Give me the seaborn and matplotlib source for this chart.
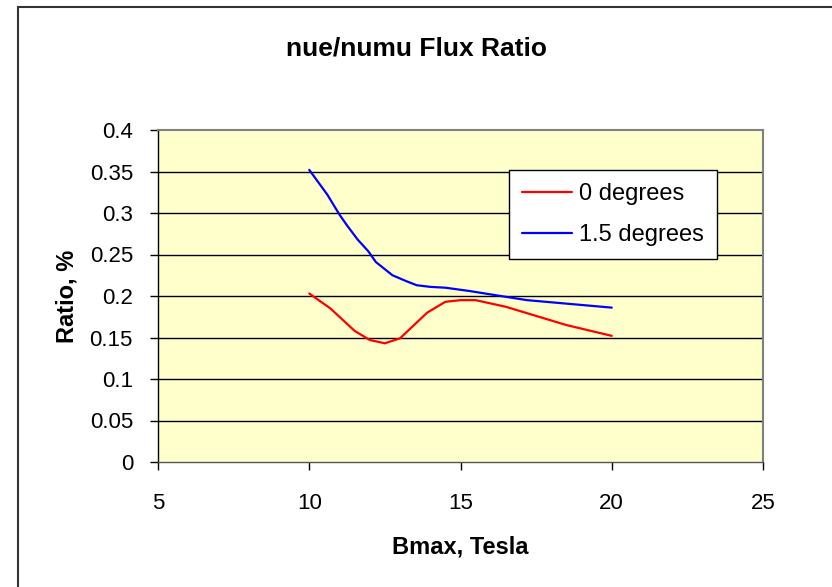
import matplotlib
matplotlib.use("Agg")
import matplotlib.pyplot as plt
from matplotlib.patches import Rectangle
import pandas as pd
import seaborn as sns

# Field strength (Tesla) and flux ratio for each beam angle
bmax_0deg = [10.0, 10.7, 11.5, 12.0, 12.5, 13.0, 13.9, 14.5, 15.0, 15.5, 16.5, 18.5, 20.0]
ratio_0deg = [0.203, 0.185, 0.158, 0.147, 0.143, 0.149, 0.180, 0.193, 0.195, 0.195, 0.187, 0.165, 0.152]

bmax_15deg = [10.0, 10.6, 11.0, 11.25, 11.6, 11.95, 12.2, 12.75, 13.2, 13.55, 14.0, 14.5, 15.3, 16.5, 17.2, 20.0]
ratio_15deg = [0.352, 0.322, 0.298, 0.285, 0.268, 0.254, 0.241, 0.225, 0.218, 0.213, 0.211, 0.210, 0.206, 0.199, 0.195, 0.186]

series_names = ["0 degrees", "1.5 degrees"]
x_ticks = [5, 10, 15, 20, 25]
y_ticks = [0, 0.05, 0.1, 0.15, 0.2, 0.25, 0.3, 0.35, 0.4]
y_tick_labels = ["0", "0.05", "0.1", "0.15", "0.2", "0.25", "0.3", "0.35", "0.4"]

df = pd.concat([
    pd.DataFrame({"Bmax": bmax_0deg, "Ratio": ratio_0deg, "Angle": series_names[0]}),
    pd.DataFrame({"Bmax": bmax_15deg, "Ratio": ratio_15deg, "Angle": series_names[1]}),
], ignore_index=True)

sns.set_style("white")
plt.rcParams["font.family"] = ["Liberation Sans", "DejaVu Sans"]
plt.rcParams["text.color"] = "black"
plt.rcParams["axes.labelcolor"] = "black"
plt.rcParams["xtick.color"] = "black"
plt.rcParams["ytick.color"] = "black"

W, H = 832, 587
fig = plt.figure(figsize=(W / 100, H / 100), dpi=100)
ax = fig.add_axes([158 / W, 1 - 462 / H, 605 / W, 332 / H])

# outer chart frame (runs off the right and bottom edges)
fig.patches.append(Rectangle((18 / W, -0.1), 1.2, 1.1 - 7 / H,
                             transform=fig.transFigure, fill=False,
                             edgecolor="#333333", linewidth=1.5, zorder=0))

ax.set_facecolor("#FFFFCC")
for y in y_ticks[1:-1]:
    ax.axhline(y, color="black", linewidth=1.0, zorder=1)

sns.lineplot(data=df, x="Bmax", y="Ratio", hue="Angle", sort=False,
             palette={series_names[0]: "#FF0000", series_names[1]: "#0000FF"},
             linewidth=1.6, ax=ax, zorder=3)

ax.set_xlim(5, 25)
ax.set_ylim(0, 0.4)
ax.set_xticks(x_ticks)
ax.set_xticklabels([str(t) for t in x_ticks])
ax.set_yticks(y_ticks)
ax.set_yticklabels(y_tick_labels)
ax.tick_params(axis="both", which="major", direction="out", length=6,
               width=1, color="black", labelsize=16, bottom=True, left=True)
ax.tick_params(axis="y", pad=12)
ax.tick_params(axis="x", pad=16)

for side in ["top", "right"]:
    ax.spines[side].set_color("#808080")
    ax.spines[side].set_linewidth(1.5)
for side in ["left", "bottom"]:
    ax.spines[side].set_color("#000000")
    ax.spines[side].set_linewidth(1.0)
ax.spines["bottom"].set_color("#555555")

ax.set_xlabel("Bmax, Tesla", fontsize=17, fontweight="bold", labelpad=16)
ax.set_ylabel("Ratio, %", fontsize=17, fontweight="bold", labelpad=8)
fig.text(0.5, 1 - 49 / H, "nue/numu Flux Ratio", ha="center", va="center",
         fontsize=19, fontweight="bold")

leg = ax.legend(loc="upper left", bbox_to_anchor=((509 - 158) / 605, (462 - 170) / 332),
                borderaxespad=0, fontsize=17, frameon=True, fancybox=False,
                framealpha=1, edgecolor="black", handlelength=2.1,
                handletextpad=0.3, borderpad=0.55, labelspacing=0.8, title=None)
leg.get_frame().set_linewidth(1.0)

fig.savefig("out.png", dpi=100)
